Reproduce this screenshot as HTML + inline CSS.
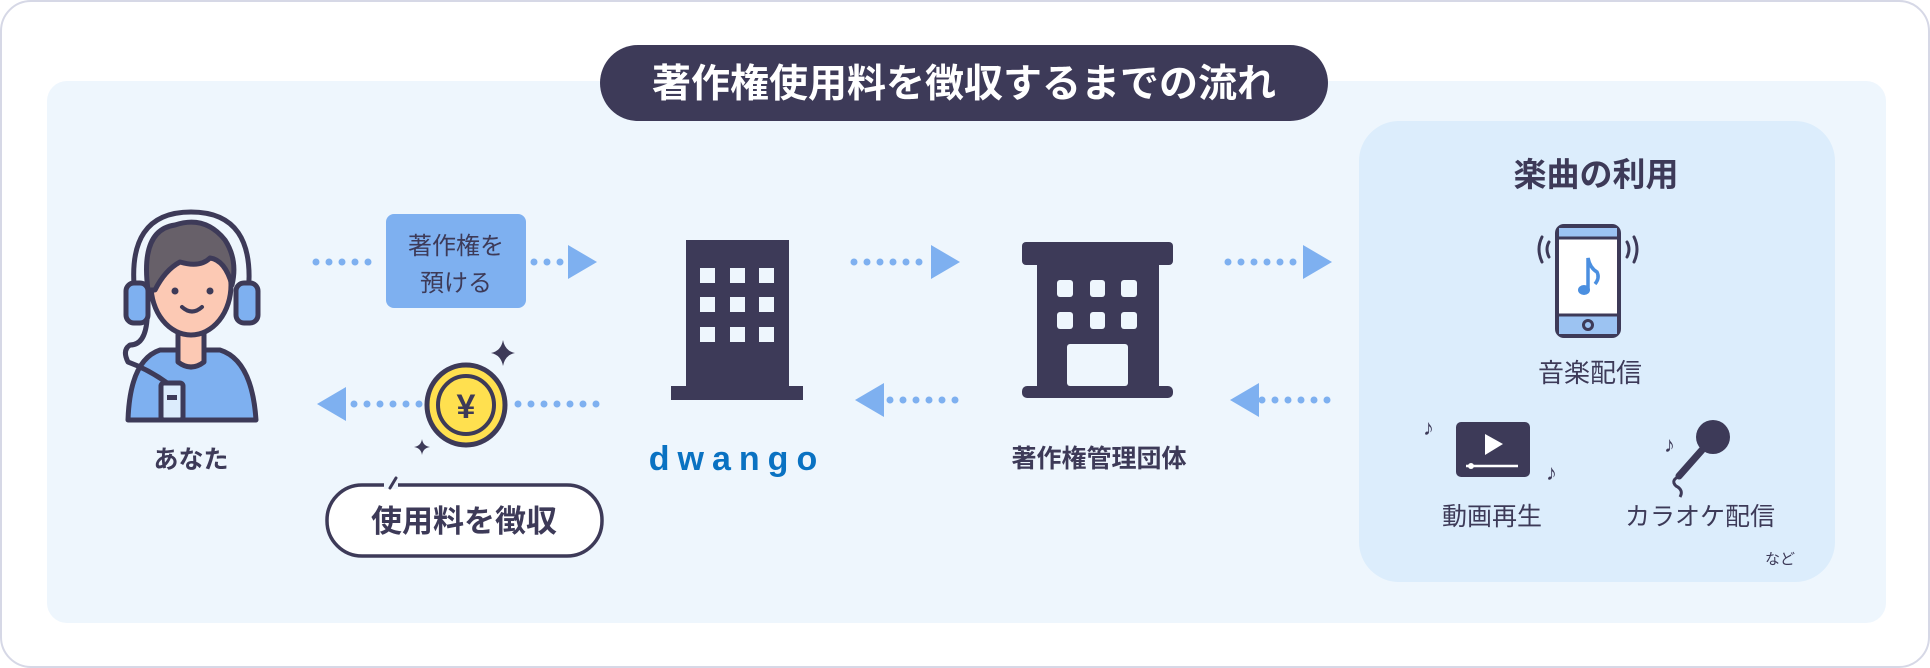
<!DOCTYPE html>
<html><head><meta charset="utf-8"><style>
html,body{margin:0;padding:0;background:#fff;}
svg{display:block;}
text{font-family:"Liberation Sans","Noto Sans CJK JP",sans-serif;}
</style></head><body>
<svg width="1930" height="668" viewBox="0 0 1930 668" xmlns="http://www.w3.org/2000/svg">
<rect x="1" y="1" width="1928" height="666" rx="30" fill="#fff" stroke="#d6d8e6" stroke-width="2"/>
<rect x="47" y="81" width="1839" height="542" rx="20" fill="#eef6fd"/>
<!-- title -->
<rect x="600" y="45" width="728" height="76" rx="38" fill="#3d3a58"/>
<text x="964" y="97" text-anchor="middle" font-size="39" font-weight="bold" fill="#fff">著作権使用料を徴収するまでの流れ</text>

<!-- person -->
<g stroke="#3d3a58" stroke-width="5" stroke-linejoin="round" stroke-linecap="round">
<path d="M128 420 Q130 360 160 350 L220 350 Q252 360 256 420 Z" fill="#7eb0f0"/>
<path d="M178 330 L178 362 Q191 372 204 362 L204 330 Z" fill="#fcc9b4"/>
<ellipse cx="191" cy="285" rx="40" ry="50" fill="#fcc9b4"/>
<path d="M148 290 Q140 230 175 225 Q205 215 225 240 Q238 260 232 285 Q225 260 210 258 Q200 268 180 262 Q165 270 155 290 Z" fill="#676069"/>
<path d="M135 295 Q125 212 191 212 Q257 212 248 295" fill="none"/>
<rect x="126" y="283" width="22" height="40" rx="8" fill="#7eb0f0"/>
<rect x="236" y="283" width="22" height="40" rx="8" fill="#7eb0f0"/>
<path d="M147 320 Q145 345 130 345 Q122 350 128 362 Q150 370 170 385" fill="none"/>
<rect x="161" y="383" width="22" height="37" rx="3" fill="#dcecfc"/>
</g>
<rect x="167" y="395" width="10" height="5" fill="#3d3a58"/>
<circle cx="175" cy="291" r="3.5" fill="#3d3a58"/><circle cx="210" cy="291" r="3.5" fill="#3d3a58"/>
<path d="M182 307 Q192 316 202 307" stroke="#3d3a58" stroke-width="4" fill="none" stroke-linecap="round"/>
<text x="191" y="468" text-anchor="middle" font-size="25" font-weight="bold" fill="#3d3a58">あなた</text>

<!-- arrows -->
<g stroke="#7eb0f0" stroke-width="7" stroke-linecap="round" stroke-dasharray="0 13" fill="none">
<line x1="316" y1="262" x2="378" y2="262"/>
<line x1="534" y1="262" x2="566" y2="262"/>
<line x1="354" y1="404" x2="420" y2="404"/>
<line x1="518" y1="404" x2="600" y2="404"/>
<line x1="854" y1="262" x2="930" y2="262"/>
<line x1="890" y1="400" x2="960" y2="400"/>
<line x1="1228" y1="262" x2="1300" y2="262"/>
<line x1="1262" y1="400" x2="1336" y2="400"/>
</g>
<g fill="#7eb0f0">
<polygon points="568,245 597,262 568,279"/>
<polygon points="346,387 317,404 346,421"/>
<polygon points="931,245 960,262 931,279"/>
<polygon points="884,383 855,400 884,417"/>
<polygon points="1303,245 1332,262 1303,279"/>
<polygon points="1259,383 1230,400 1259,417"/>
</g>
<rect x="386" y="214" width="140" height="94" rx="8" fill="#7eb0f0"/>
<text x="456" y="254" text-anchor="middle" font-size="24" fill="#3d3a58">著作権を</text>
<text x="456" y="291" text-anchor="middle" font-size="24" fill="#3d3a58">預ける</text>

<!-- coin -->
<ellipse cx="466" cy="405" rx="39" ry="40" fill="#ffe04f" stroke="#3d3a58" stroke-width="5"/>
<ellipse cx="466" cy="405" rx="28" ry="29" fill="none" stroke="#3d3a58" stroke-width="4"/>
<text x="466" y="418" text-anchor="middle" font-size="34" font-weight="bold" fill="#3d3a58">¥</text>
<path d="M503 340 Q505 351 515 353 Q505 355 503 366 Q501 355 491 353 Q501 351 503 340Z" fill="#3d3a58"/>
<path d="M422 439 Q423 446 430 447 Q423 448 422 455 Q421 448 414 447 Q421 446 422 439Z" fill="#3d3a58"/>
<!-- collect pill -->
<rect x="327" y="485" width="275" height="71" rx="35" fill="#fff" stroke="#3d3a58" stroke-width="3.5"/>
<rect x="384" y="481" width="14" height="8" fill="#eef6fd"/>
<line x1="390" y1="488" x2="396" y2="478" stroke="#3d3a58" stroke-width="3" stroke-linecap="round"/>
<text x="464" y="532" text-anchor="middle" font-size="31" font-weight="bold" fill="#3d3a58">使用料を徴収</text>

<!-- dwango building -->
<rect x="686" y="240" width="103" height="150" fill="#3d3a58"/>
<rect x="671" y="386" width="132" height="14" fill="#3d3a58"/>
<g fill="#eef6fd">
<rect x="700" y="268" width="15" height="15"/><rect x="730" y="268" width="15" height="15"/><rect x="759" y="268" width="15" height="15"/>
<rect x="700" y="297" width="15" height="15"/><rect x="730" y="297" width="15" height="15"/><rect x="759" y="297" width="15" height="15"/>
<rect x="700" y="327" width="15" height="15"/><rect x="730" y="327" width="15" height="15"/><rect x="759" y="327" width="15" height="15"/>
</g>
<text x="737" y="470" text-anchor="middle" font-size="34" font-weight="bold" fill="#0a72c2" letter-spacing="8">dwango</text>

<!-- org building -->
<rect x="1022" y="242" width="151" height="23" rx="4" fill="#3d3a58"/>
<rect x="1037" y="260" width="122" height="130" fill="#3d3a58"/>
<rect x="1022" y="386" width="151" height="12" rx="5" fill="#3d3a58"/>
<g fill="#eef6fd">
<rect x="1057" y="280" width="16" height="17" rx="3"/><rect x="1090" y="280" width="15" height="17" rx="3"/><rect x="1121" y="280" width="16" height="17" rx="3"/>
<rect x="1057" y="312" width="16" height="17" rx="3"/><rect x="1090" y="312" width="15" height="17" rx="3"/><rect x="1121" y="312" width="16" height="17" rx="3"/>
<rect x="1067" y="344" width="61" height="42" rx="3"/>
</g>
<text x="1099" y="467" text-anchor="middle" font-size="25" font-weight="bold" fill="#3d3a58">著作権管理団体</text>

<!-- right box -->
<rect x="1359" y="121" width="476" height="461" rx="40" fill="#dcedfc"/>
<text x="1596" y="186" text-anchor="middle" font-size="33" font-weight="bold" fill="#3d3a58">楽曲の利用</text>
<!-- phone -->
<rect x="1557" y="226" width="62" height="110" rx="7" fill="#fff" stroke="#3d3a58" stroke-width="4"/>
<rect x="1559" y="228" width="58" height="10" fill="#9cc3f2"/>
<rect x="1559" y="315" width="58" height="19" fill="#9cc3f2"/>
<line x1="1559" y1="238" x2="1617" y2="238" stroke="#3d3a58" stroke-width="3"/>
<line x1="1559" y1="315" x2="1617" y2="315" stroke="#3d3a58" stroke-width="3"/>
<circle cx="1588" cy="325" r="4.5" fill="none" stroke="#3d3a58" stroke-width="3"/>
<ellipse cx="1584" cy="290" rx="6" ry="5" fill="#4b8fe0"/>
<path d="M1588 290 L1588 258 Q1590 268 1597 272 Q1600 278 1595 284" stroke="#4b8fe0" stroke-width="3.5" fill="none"/>
<g stroke="#3d3a58" stroke-width="3" fill="none" stroke-linecap="round">
<path d="M1542 237 Q1536 249 1542 262"/><path d="M1549 242 Q1545 249 1549 257"/>
<path d="M1634 237 Q1640 249 1634 262"/><path d="M1627 242 Q1631 249 1627 257"/>
</g>
<text x="1590" y="382" text-anchor="middle" font-size="26" fill="#3d3a58">音楽配信</text>
<!-- video -->
<rect x="1456" y="422" width="74" height="55" rx="5" fill="#3d3a58"/>
<polygon points="1485,434 1485,455 1503,444" fill="#fff"/>
<line x1="1466" y1="466" x2="1518" y2="466" stroke="#fff" stroke-width="2.5"/>
<circle cx="1471" cy="466" r="3" fill="#fff"/>
<text x="1492" y="525" text-anchor="middle" font-size="25" fill="#3d3a58">動画再生</text>
<!-- notes -->
<g font-size="22" fill="#3d3a58" font-weight="bold">
<text x="1423" y="435">♪</text><text x="1546" y="480">♪</text><text x="1664" y="452">♪</text>
</g>
<!-- mic -->
<circle cx="1713" cy="437" r="17" fill="#3d3a58"/>
<line x1="1702" y1="450" x2="1679" y2="476" stroke="#3d3a58" stroke-width="7" stroke-linecap="round"/>
<path d="M1680 476 Q1670 480 1676 486 Q1684 490 1680 497" stroke="#3d3a58" stroke-width="3" fill="none"/>
<text x="1700" y="525" text-anchor="middle" font-size="25" fill="#3d3a58">カラオケ配信</text>
<text x="1780" y="564" text-anchor="middle" font-size="15" fill="#3d3a58">など</text>
</svg>
</body></html>
